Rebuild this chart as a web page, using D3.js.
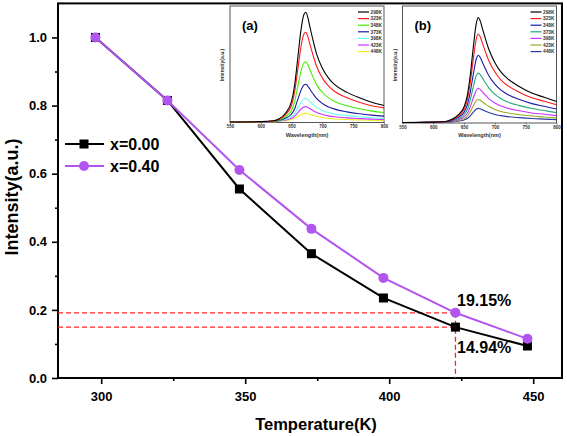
<!DOCTYPE html>
<html><head><meta charset="utf-8">
<script src="https://cdn.jsdelivr.net/npm/d3@7"></script>
<style>html,body{margin:0;padding:0;background:#fff;}svg{display:block;font-family:Arial,"Liberation Sans",sans-serif;}</style>
</head><body>
<svg id="c" width="567" height="436"></svg>
<script>
// ---- main chart data ----
const temps = [298, 323, 348, 373, 398, 423, 448];
const x000 = [1.0, 0.815, 0.555, 0.365, 0.235, 0.1494, 0.094];
const x040 = [1.0, 0.815, 0.611, 0.438, 0.294, 0.1915, 0.115];
const seriesNames = ["x=0.00", "x=0.40"];
const xTicks = [300, 350, 400, 450];
const yTicks = [0.0, 0.2, 0.4, 0.6, 0.8, 1.0];
const annotations = ["19.15%", "14.94%"];

// ---- inset spectra data ----
const wavelengths = [550, 600, 620, 630, 640, 650, 655, 660, 665, 670, 673, 676, 680, 685, 690, 700, 710, 720, 740, 760, 780, 800];
const insetTempLabels = ["298K", "323K", "348K", "373K", "398K", "423K", "448K"];
const insetTicks = [550, 600, 650, 700, 750, 800];
const specA298 = [0, 0.003, 0.01, 0.028, 0.074, 0.177, 0.316, 0.54, 0.772, 0.911, 0.93, 0.893, 0.80, 0.688, 0.586, 0.456, 0.372, 0.316, 0.251, 0.205, 0.167, 0.14];
const specA323 = [0, 0.002, 0.008, 0.023, 0.061, 0.144, 0.258, 0.441, 0.631, 0.745, 0.76, 0.73, 0.654, 0.562, 0.479, 0.372, 0.304, 0.258, 0.205, 0.167, 0.137, 0.12];
const specA348 = [0, 0.002, 0.006, 0.018, 0.045, 0.1, 0.175, 0.3, 0.425, 0.5, 0.51, 0.49, 0.44, 0.378, 0.321, 0.25, 0.204, 0.173, 0.138, 0.112, 0.092, 0.08];
const specA373 = [0, 0.001, 0.005, 0.014, 0.032, 0.068, 0.113, 0.19, 0.266, 0.314, 0.32, 0.307, 0.275, 0.237, 0.202, 0.157, 0.128, 0.109, 0.086, 0.07, 0.058, 0.05];
const specA398 = [0, 0.001, 0.004, 0.011, 0.023, 0.046, 0.073, 0.119, 0.166, 0.196, 0.2, 0.192, 0.172, 0.148, 0.126, 0.098, 0.08, 0.068, 0.054, 0.044, 0.036, 0.031];
const specA423 = [0, 0.001, 0.003, 0.008, 0.017, 0.032, 0.05, 0.078, 0.108, 0.127, 0.13, 0.125, 0.112, 0.096, 0.082, 0.064, 0.052, 0.044, 0.035, 0.029, 0.024, 0.02];
const specA448 = [0, 0.001, 0.002, 0.006, 0.012, 0.021, 0.031, 0.046, 0.062, 0.073, 0.075, 0.072, 0.065, 0.056, 0.048, 0.038, 0.031, 0.026, 0.021, 0.017, 0.014, 0.012];
const specB298 = [0, 0.003, 0.009, 0.027, 0.062, 0.134, 0.223, 0.40, 0.641, 0.846, 0.89, 0.863, 0.792, 0.703, 0.623, 0.507, 0.427, 0.374, 0.303, 0.249, 0.214, 0.178];
const specB323 = [0, 0.002, 0.008, 0.023, 0.053, 0.113, 0.188, 0.338, 0.54, 0.713, 0.75, 0.728, 0.668, 0.593, 0.525, 0.428, 0.36, 0.315, 0.255, 0.21, 0.18, 0.15];
const specB348 = [0, 0.002, 0.006, 0.018, 0.041, 0.087, 0.145, 0.258, 0.41, 0.542, 0.57, 0.553, 0.507, 0.45, 0.399, 0.325, 0.274, 0.239, 0.194, 0.16, 0.137, 0.114];
const specB373 = [0, 0.001, 0.005, 0.014, 0.031, 0.066, 0.108, 0.192, 0.304, 0.4, 0.42, 0.407, 0.374, 0.332, 0.294, 0.239, 0.202, 0.176, 0.143, 0.118, 0.101, 0.084];
const specB398 = [0, 0.001, 0.004, 0.01, 0.022, 0.047, 0.076, 0.134, 0.21, 0.276, 0.29, 0.281, 0.258, 0.229, 0.203, 0.165, 0.139, 0.122, 0.099, 0.081, 0.07, 0.058];
const specB423 = [0, 0.001, 0.003, 0.008, 0.016, 0.033, 0.053, 0.091, 0.142, 0.186, 0.195, 0.189, 0.174, 0.154, 0.137, 0.111, 0.094, 0.082, 0.066, 0.055, 0.047, 0.039];
const specB448 = [0, 0.001, 0.002, 0.005, 0.011, 0.022, 0.034, 0.057, 0.088, 0.114, 0.12, 0.116, 0.107, 0.095, 0.084, 0.068, 0.058, 0.05, 0.041, 0.034, 0.029, 0.024];

const colorsA = ["#000000", "#ff1a1a", "#44ee00", "#1c1c99", "#66ffee", "#cc33ff", "#eeee22"];
const colorsB = ["#000000", "#ff1a1a", "#1a1aaa", "#22aa77", "#cc33ff", "#99aa22", "#2a3aa0"];

const svg = d3.select("#c");
const L = 58, R = 562, T = 3.4, B = 378;
const x = d3.scaleLinear().domain([285, 460]).range([L, R]);
const y = d3.scaleLinear().domain([0, 1.1]).range([B, T]);

// axes
const xAxis = d3.axisBottom(x).tickValues(xTicks).tickSize(6).tickFormat(d3.format("d"));
const xMinor = d3.axisBottom(x).tickValues([325, 375, 425]).tickSize(3).tickFormat("");
const yAxis = d3.axisLeft(y).tickValues(yTicks).tickSize(6).tickFormat(d3.format(".1f"));
const yMinor = d3.axisLeft(y).tickValues([0.1, 0.3, 0.5, 0.7, 0.9]).tickSize(3).tickFormat("");

function styleAxis(g) {
  g.select(".domain").remove();
  g.selectAll(".tick line").attr("stroke", "#000").attr("stroke-width", 1.6);
  g.selectAll(".tick text").attr("fill", "#000").style("font-size", "13px").style("font-weight", "bold");
}
const gx = svg.append("g").attr("transform", `translate(0,${B})`).call(xAxis).call(styleAxis);
gx.selectAll(".tick text").attr("dy", "1.05em").attr("y", 9);
svg.append("g").attr("transform", `translate(0,${B})`).call(xMinor).call(styleAxis);
const gy = svg.append("g").attr("transform", `translate(${L},0)`).call(yAxis).call(styleAxis);
gy.selectAll(".tick text").attr("x", -11);
svg.append("g").attr("transform", `translate(${L},0)`).call(yMinor).call(styleAxis);

// frame
svg.append("rect").attr("x", L).attr("y", T).attr("width", R - L).attr("height", B - T)
  .attr("fill", "none").attr("stroke", "#000").attr("stroke-width", 2);

// titles
svg.append("text").attr("x", (L + R) / 2 + 6).attr("y", 430).attr("text-anchor", "middle")
  .style("font-size", "16.5px").style("font-weight", "bold").text("Temperature(K)");
svg.append("text").attr("transform", `translate(18,197) rotate(-90)`).attr("text-anchor", "middle")
  .style("font-size", "18px").style("font-weight", "bold").text("Intensity(a.u.)");

// red dashed guides
const red = "#ff2222";
const dash = "5,3";
svg.append("line").attr("x1", L).attr("x2", x(temps[5])).attr("y1", y(x040[5])).attr("y2", y(x040[5]))
  .attr("stroke", red).attr("stroke-width", 1.3).attr("stroke-dasharray", dash);
svg.append("line").attr("x1", L).attr("x2", x(temps[5])).attr("y1", y(x000[5])).attr("y2", y(x000[5]))
  .attr("stroke", red).attr("stroke-width", 1.3).attr("stroke-dasharray", dash);
svg.append("line").attr("x1", x(temps[5])).attr("x2", x(temps[5])).attr("y1", y(x040[5])).attr("y2", B)
  .attr("stroke", red).attr("stroke-width", 1.3).attr("stroke-dasharray", dash);

// series
const purple = "#b255ee";
const line = d3.line().x((d, i) => x(temps[i])).y(d => y(d));
svg.append("path").datum(x000).attr("d", line).attr("fill", "none").attr("stroke", "#000").attr("stroke-width", 2);
svg.selectAll(".sq").data(x000).enter().append("rect")
  .attr("x", (d, i) => x(temps[i]) - 4.5).attr("y", d => y(d) - 4.5).attr("width", 9).attr("height", 9).attr("fill", "#000");
svg.append("path").datum(x040).attr("d", line).attr("fill", "none").attr("stroke", purple).attr("stroke-width", 2);
svg.selectAll(".ci").data(x040).enter().append("circle")
  .attr("cx", (d, i) => x(temps[i])).attr("cy", d => y(d)).attr("r", 5).attr("fill", purple);

// annotations
svg.append("text").attr("x", 457).attr("y", 306).style("font-size", "16px").style("font-weight", "bold").text(annotations[0]);
svg.append("text").attr("x", 457).attr("y", 353).style("font-size", "16px").style("font-weight", "bold").text(annotations[1]);

// legend
const legY = [144, 166];
const legCol = ["#000", purple];
legY.forEach((ly, i) => {
  svg.append("line").attr("x1", 65).attr("x2", 104).attr("y1", ly).attr("y2", ly).attr("stroke", legCol[i]).attr("stroke-width", 2);
  if (i === 0) svg.append("rect").attr("x", 84 - 4.5).attr("y", ly - 4.5).attr("width", 9).attr("height", 9).attr("fill", "#000");
  else svg.append("circle").attr("cx", 84).attr("cy", ly).attr("r", 5).attr("fill", purple);
  svg.append("text").attr("x", 110).attr("y", ly + 6).style("font-size", "16px").style("font-weight", "bold").text(seriesNames[i]);
});

// insets
function inset(x0, x1, y0, y1, spectra, colors, tag) {
  const g = svg.append("g");
  g.append("rect").attr("x", x0).attr("y", y0).attr("width", x1 - x0).attr("height", y1 - y0)
    .attr("fill", "#fff").attr("stroke", "#555").attr("stroke-width", 1);
  const ix = d3.scaleLinear().domain([550, 800]).range([x0, x1]);
  const iy = d3.scaleLinear().domain([0, 1]).range([y1 - 0.5, y1 - 118.5]);
  const ax = d3.axisBottom(ix).tickValues(insetTicks).tickSize(1.5).tickFormat(d3.format("d"));
  const ag = g.append("g").attr("transform", `translate(0,${y1})`).call(ax);
  ag.select(".domain").remove();
  ag.selectAll(".tick line").attr("stroke", "#333").attr("stroke-width", 0.6);
  ag.selectAll(".tick text").attr("y", 2.5).attr("fill", "#333").style("font-size", "4.5px").style("font-weight", "bold");
  const ln = d3.line().x((d, i) => ix(wavelengths[i])).y(d => iy(d)).curve(d3.curveMonotoneX);
  spectra.slice().reverse().forEach((s, k) => {
    const i = spectra.length - 1 - k;
    g.append("path").datum(s).attr("d", ln).attr("fill", "none").attr("stroke", colors[i]).attr("stroke-width", 1.1);
  });
  // legend
  const lx = x1 - 26;
  insetTempLabels.forEach((t, i) => {
    const ly = 12 + i * 6.6;
    g.append("line").attr("x1", lx).attr("x2", lx + 11).attr("y1", ly).attr("y2", ly).attr("stroke", colors[i]).attr("stroke-width", 1.2);
    g.append("text").attr("x", lx + 12.5).attr("y", ly + 1.7).attr("fill", "#333").style("font-size", "4.8px").style("font-weight", "bold").text(t);
  });
  g.append("text").attr("x", x0 + 12).attr("y", 30).style("font-size", "13px").style("font-weight", "bold").text(tag);
  g.append("text").attr("x", (x0 + x1) / 2).attr("y", y1 + 14).attr("text-anchor", "middle").attr("fill", "#333")
    .style("font-size", "5.5px").style("font-weight", "bold").text("Wavelength(nm)");
  g.append("text").attr("transform", `translate(${x0 - 6},65) rotate(-90)`).attr("text-anchor", "middle").attr("fill", "#333")
    .style("font-size", "5px").style("font-weight", "bold").text("Intensity(a.u.)");
}
inset(230, 384, 6, 122.5, [specA298, specA323, specA348, specA373, specA398, specA423, specA448], colorsA, "(a)");
inset(402.5, 556.5, 6, 123, [specB298, specB323, specB348, specB373, specB398, specB423, specB448], colorsB, "(b)");
</script>
</body></html>
